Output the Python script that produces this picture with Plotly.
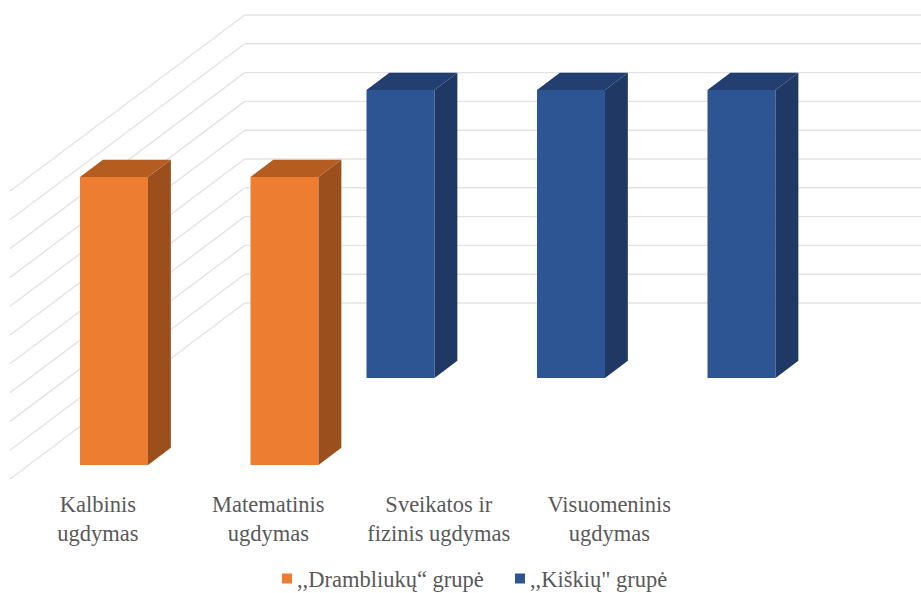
import plotly.graph_objects as go

# ---- data ----
categories = ["Kalbinis<br>ugdymas", "Matematinis<br>ugdymas", "Sveikatos ir<br>fizinis ugdymas", "Visuomeninis<br>ugdymas"]
series_names = [",,Drambliukų“ grupė", ',,Kiškių" grupė']
drambliukai = [10, 10, None, None]
kiskiai = [None, 10, 10, 10]
value_ticks = [0, 1, 2, 3, 4, 5, 6, 7, 8, 9, 10]

# ---- oblique 3-D projection (in axis units) ----
PX_PER_CAT, PX_PER_VAL = 170.5, 28.8
DEPTH_DX, DEPTH_DY = 116 / PX_PER_CAT, 87 / PX_PER_VAL   # one series row deeper
FLOOR_FRONT, FLOOR_BACK = -0.161, 1.862
BAR_HALF, BAR_DEPTH = 34 / PX_PER_CAT, 0.197
W, H, AXIS_PX = 921, 612, 488     # page is slightly taller than the window; legend sits at its edge
X0_PX, Y0_PX = 114, 465
FAR_RIGHT = 4.2
FONT_SIZE = 22.5


def proj(cat, val, depth):
    return cat + depth * DEPTH_DX, val + depth * DEPTH_DY


fig = go.Figure()

# gridlines: side wall and back wall, below every mark
GRID = dict(color="#e3e3e3", width=1.4)
for v in value_ticks:
    xa, ya = proj(-0.5, v, FLOOR_FRONT)
    xb, yb = proj(-0.5, v, FLOOR_BACK)
    xc, yc = proj(FAR_RIGHT, v, FLOOR_BACK)
    fig.add_shape(type="line", x0=xa, y0=ya, x1=xb, y1=yb, line=GRID, layer="below")
    fig.add_shape(type="line", x0=xb, y0=yb, x1=xc, y1=yc, line=GRID, layer="below")

rows = [
    (kiskiai, 1, series_names[1], "#2D5493", "#1F3864", "#223F70"),
    (drambliukai, 0, series_names[0], "#ED7D31", "#9A4F1C", "#B55D21"),
]
for values, depth, name, front, side, top in rows:
    idx = [i for i, v in enumerate(values) if v is not None]
    vals = [values[i] for i in idx]
    fx = [proj(i, 0, depth)[0] for i in idx]
    fb = [proj(i, 0, depth)[1] for i in idx]
    fig.add_trace(go.Bar(x=fx, y=vals, base=fb, width=2 * BAR_HALF, name=name,
                         marker=dict(color=front, line=dict(width=0)),
                         showlegend=False, hoverinfo="skip"))
    # legend key: small square swatch for this series
    fig.add_trace(go.Scatter(x=[None], y=[None], mode="markers", name=name,
                             marker=dict(symbol="square", size=10, color=front),
                             legendrank=1 if depth == 0 else 2, hoverinfo="skip"))
    for i, v in zip(idx, vals):
        l, r = i - BAR_HALF, i + BAR_HALF
        d0, d1 = depth, depth + BAR_DEPTH
        faces = [
            ([(r, 0, d0), (r, 0, d1), (r, v, d1), (r, v, d0)], side),
            ([(l, v, d0), (l, v, d1), (r, v, d1), (r, v, d0)], top),
        ]
        for corners, colour in faces:
            pts = [proj(*c) for c in corners]
            fig.add_trace(go.Scatter(x=[p[0] for p in pts], y=[p[1] for p in pts],
                                     fill="toself", fillcolor=colour, mode="lines",
                                     line=dict(width=0, color=colour),
                                     showlegend=False, hoverinfo="skip"))

fig.update_layout(
    width=W, height=H, margin=dict(l=0, r=0, t=0, b=H - AXIS_PX),
    paper_bgcolor="white", plot_bgcolor="white", barmode="overlay",
    font=dict(family="Liberation Serif", size=FONT_SIZE, color="#595959"),
    legend=dict(orientation="h", x=0.2888, xanchor="left", y=-0.186, yanchor="middle",
                traceorder="normal", font=dict(size=FONT_SIZE, color="#595959"),
                indentation=-9, entrywidth=197, entrywidthmode="pixels",
                bgcolor="rgba(0,0,0,0)"),
    xaxis=dict(range=[-X0_PX / PX_PER_CAT, (W - X0_PX) / PX_PER_CAT],
               tickmode="array", tickvals=[i - 0.095 for i in range(len(categories))],
               ticktext=categories, ticklen=0, showgrid=False, zeroline=False, showline=False,
               tickangle=0, tickfont=dict(size=FONT_SIZE, color="#595959")),
    yaxis=dict(range=[(Y0_PX - AXIS_PX) / PX_PER_VAL, Y0_PX / PX_PER_VAL],
               visible=False, showgrid=False, zeroline=False),
)
fig.write_html("out.html", config={"displayModeBar": False},
               post_script="document.body.style.margin='0';document.documentElement.style.overflow='hidden';"
                           "document.querySelectorAll('.legendsymbols').forEach(function(g){g.setAttribute('transform','translate(10,0)');});")
